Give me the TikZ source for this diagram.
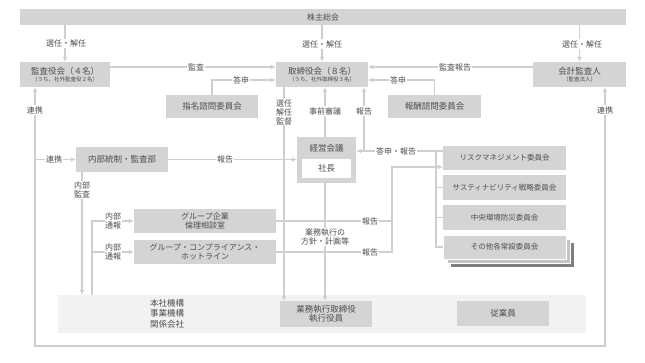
\documentclass[tikz,border=0pt]{standalone}
\usepackage{fontspec}
\setmainfont{Noto Sans CJK JP}
\usetikzlibrary{arrows.meta}
\definecolor{boxgray}{HTML}{D4D4D4}
\definecolor{lngray}{HTML}{CFCFCF}
\definecolor{txtgray}{HTML}{4D4D4D}
\definecolor{regiongray}{HTML}{F2F2F2}
\definecolor{shadowmid}{HTML}{C4C4C4}
\definecolor{shadowdark}{HTML}{7F7F7F}
\newcommand{\fsz}[1]{\fontsize{#1}{#1}\selectfont}
\begin{document}
\begin{tikzpicture}[x=1pt,y=-1pt,text=txtgray,
  box/.style={fill=boxgray,inner sep=0pt,align=center,font=\fsz{8.5}},
  lbl/.style={fill=white,inner sep=1.2pt,align=center,font=\fsz{8}},
  ln/.style={draw=lngray,line width=1.5pt},
  arr/.style={ln,-{Latex[length=5pt,width=5pt]}},
  cbox/.style={box,minimum width=123pt,minimum height=24pt,font=\fsz{7.5}}]
\useasboundingbox[fill=white] (0,0) rectangle (645,363);

% region
\node[fill=regiongray,minimum width=528pt,minimum height=38pt,inner sep=0pt] (region) at (322,314) {};
\node[align=center,font=\fsz{8.5},inner sep=0pt] (honsha) at (167,313.5) {本社機構\\[2pt]事業機構\\[2pt]関係会社};
\node[box,minimum width=92pt,minimum height=26pt] (gyomu) at (326,314) {業務執行取締役\\[1pt]執行役員};
\node[box,minimum width=92pt,minimum height=25pt] (jugyoin) at (503,313.5) {従業員};

% top
\node[box,minimum width=606pt,minimum height=16pt,font=\fsz{8}] (kabunushi) at (323,17) {株主総会};
\node[box,minimum width=90pt,minimum height=25pt] (kansayaku) at (65,74.5) {監査役会（４名）\\[-1pt]{\fsz{5.5}（うち、社外監査役２名）}};
\node[box,minimum width=92pt,minimum height=25pt] (torishimari) at (322,74.5) {取締役会（８名）\\[-1pt]{\fsz{5.5}（うち、社外取締役３名）}};
\node[box,minimum width=93pt,minimum height=25pt] (kaikei) at (579.5,74.5) {会計監査人\\[-1pt]{\fsz{5.5}（監査法人）}};
\node[box,minimum width=92pt,minimum height=23pt] (shimei) at (212,106.5) {指名諮問委員会};
\node[box,minimum width=93pt,minimum height=23pt] (hoshu) at (434.5,106.5) {報酬諮問委員会};

% middle
\node[box,minimum width=92pt,minimum height=25pt] (naibu) at (122,159.5) {内部統制・監査部};
\node[box,minimum width=59pt,minimum height=46pt] (keiei) at (326.5,160) {};
\node[font=\fsz{8.5},inner sep=0pt] (keieitxt) at (326.5,148) {経営会議};
\node[fill=white,minimum width=49pt,minimum height=19pt,inner sep=0pt,font=\fsz{8.5}] (shacho) at (326.5,168.5) {社長};

\node[box,minimum width=142pt,minimum height=24pt,font=\fsz{8}] (ethics) at (205,221) {グループ企業\\[1pt]倫理相談室};
\node[box,minimum width=142pt,minimum height=24pt,font=\fsz{8}] (hotline) at (205,252) {グループ・コンプライアンス・\\[1pt]ホットライン};

% committees
\node[fill=shadowdark,minimum width=123pt,minimum height=24pt,inner sep=0pt] (shB) at (512.5,255.5) {};
\node[fill=shadowmid,draw=white,line width=0.6pt,minimum width=123pt,minimum height=24pt,inner sep=0pt] (shA) at (508.5,251) {};
\node[cbox] (risk) at (504.5,158) {リスクマネジメント委員会};
\node[cbox,minimum height=25pt] (sust) at (504.5,187.5) {サスティナビリティ戦略委員会};
\node[cbox,minimum height=25pt] (chuo) at (504.5,217.5) {中央環境防災委員会};
\node[cbox,draw=white,line width=0.6pt] (sonota) at (504.5,247) {その他各常設委員会};

% coordinates
\coordinate (xL) at (35,0);
\coordinate (xR) at (605,0);
\coordinate (yB) at (0,346);
\coordinate (xA) at (82,0);
\coordinate (xB) at (92,0);
\coordinate (xC) at (392,0);
\coordinate (xD) at (436,0);
\coordinate (xE) at (364,0);
\coordinate (xF) at (325,0);
\coordinate (xG) at (284,0);
\coordinate (rt) at ([yshift=7pt]risk.west);
\coordinate (rk) at ([yshift=-9pt]risk.west);

% connectors
\draw[arr] (kabunushi.south -| kansayaku.north) -- (kansayaku.north);
\draw[arr] (kabunushi.south -| torishimari.north) -- (torishimari.north);
\draw[arr] (kabunushi.south -| kaikei.north) -- (kaikei.north);
\draw[arr] ([yshift=7.5pt]kansayaku.east) -- ([yshift=7.5pt]kansayaku.east -| torishimari.west);
\draw[arr] (shimei.north) |- ([yshift=-5.5pt]torishimari.west);
\draw[arr] (hoshu.north) |- ([yshift=-5.5pt]torishimari.east);
\draw[arr] ([yshift=7.5pt]kaikei.west) -- ([yshift=7.5pt]kaikei.west -| torishimari.east);
\draw[ln,{Latex[length=5pt,width=5pt]}-{Latex[length=5pt,width=5pt]}] (kansayaku.south -| xL) -- (xL |- yB) -- (xR |- yB) -- (kaikei.south -| xR);
\draw[arr] (xL |- naibu.west) -- (naibu.west);
\draw[arr] (naibu.east) -- (naibu.east -| keiei.west);
\draw[arr] (naibu.south -| xA) -- (region.north -| xA);
\draw[arr] (region.north -| xB) |- (ethics.west);
\draw[arr] (xB |- hotline.west) -- (hotline.west);
\draw[arr] (torishimari.south -| xG) -- (gyomu.north -| xG);
\draw[arr] (keiei.north -| xF) -- (torishimari.south -| xF);
\draw[arr] (keiei.south -| xF) -- (gyomu.north -| xF);
\draw[arr] (rt) -- (rt -| keiei.east);
\draw[arr] (rt -| xE) -- (torishimari.south -| xE);
\draw[ln] (rt -| xD) |- (sonota.west);
\draw[ln] (xD |- sust.west) -- (sust.west);
\draw[ln] (xD |- chuo.west) -- (chuo.west);
\draw[arr] (ethics.east) -- (ethics.east -| xC) -- (xC |- rk) -- (rk);
\draw[ln] (hotline.east) -- (hotline.east -| xC) -- (ethics.east -| xC);

% labels
\node[lbl] (l1) at (66,43.5) {選任・解任};
\node[lbl] (l2) at (322,44) {選任・解任};
\node[lbl] (l3) at (582,44) {選任・解任};
\node[lbl] (l4) at (196,67) {監査};
\node[lbl] (l5) at (241,80) {答申};
\node[lbl] (l6) at (398,80) {答申};
\node[lbl] (l7) at (455,67) {監査報告};
\node[lbl] (l8) at (35,110) {連携};
\node[lbl] (l9) at (605,110) {連携};
\node[lbl,inner sep=0.5pt] (l10) at (284,112) {選任\\[1pt]解任\\[1pt]監督};
\node[lbl] (l11) at (325,111) {事前審議};
\node[lbl] (l12) at (364,111) {報告};
\node[lbl] (l13) at (396,151) {答申・報告};
\node[lbl] (l14) at (54,159.5) {連携};
\node[lbl] (l15) at (225,159.5) {報告};
\node[lbl,inner sep=0.5pt] (l16) at (82,190) {内部\\[1pt]監査};
\node[lbl,inner sep=0.5pt] (l17) at (113,220.5) {内部\\[1pt]通報};
\node[lbl,inner sep=0.5pt] (l18) at (113,251.5) {内部\\[1pt]通報};
\node[lbl] (l19) at (370,221) {報告};
\node[lbl] (l20) at (370,252) {報告};
\node[lbl,inner sep=0.5pt] (l21) at (325,237) {業務執行の\\[1pt]方針・計画等};
\end{tikzpicture}
\end{document}
